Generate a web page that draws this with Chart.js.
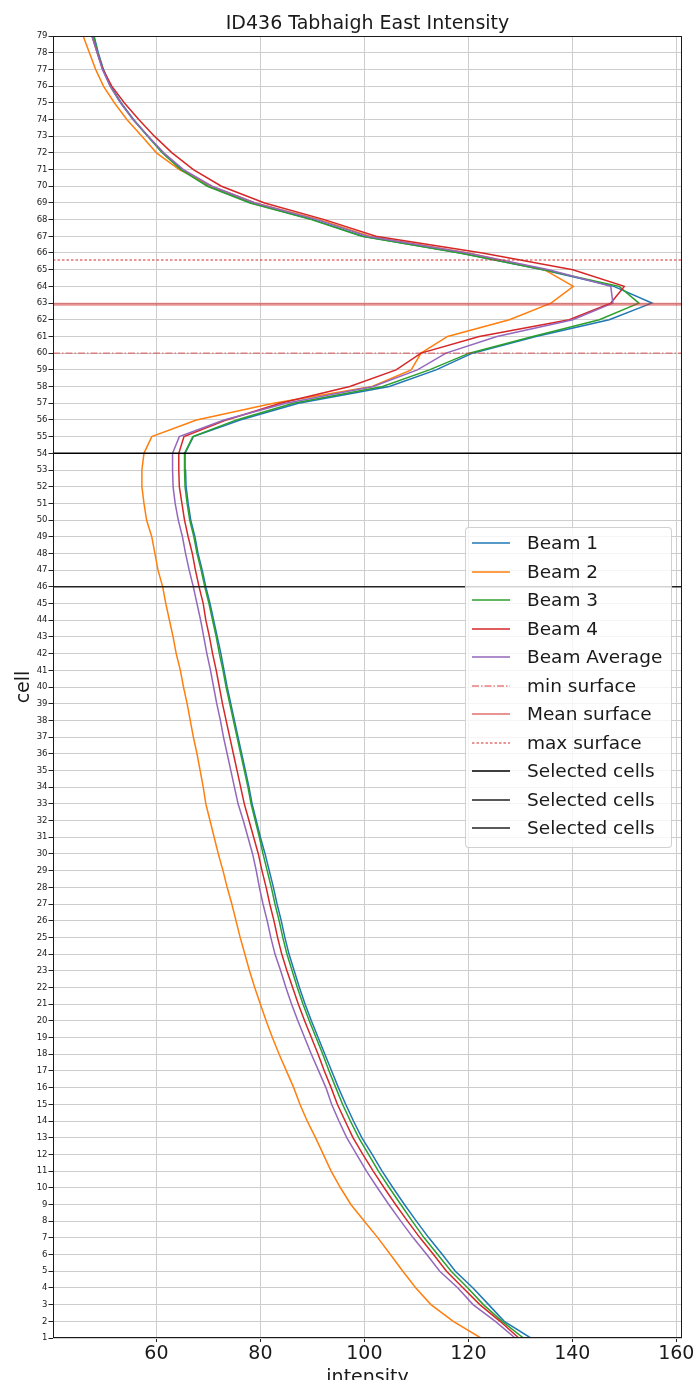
<!DOCTYPE html>
<html><head><meta charset="utf-8">
<script src="https://cdn.jsdelivr.net/npm/chart.js@4.4.1/dist/chart.umd.min.js"></script>
<style>
html,body{margin:0;padding:0;background:#fff;overflow:hidden;}
#wrap{position:relative;width:697px;height:1380px;overflow:hidden;}
#legend{position:absolute;left:465px;top:527px;width:207px;height:321px;background:rgba(255,255,255,0.8);border:1px solid rgba(204,204,204,0.9);border-radius:4px;box-sizing:border-box;font-family:'DejaVu Sans';font-size:18.5px;color:#1a1a1a;}
.row{position:absolute;left:0;width:100%;height:28px;}
.row svg{position:absolute;left:6px;top:9px;}
.row span{position:absolute;left:61px;top:0;line-height:28px;white-space:nowrap;}
</style></head><body>
<div id="wrap"><canvas id="c" width="697" height="1396"></canvas><div id="legend"></div></div>
<script>
// ---- data (cell 1 .. 79) ----
const cells = [1,2,3,4,5,6,7,8,9,10,11,12,13,14,15,16,17,18,19,20,21,22,23,24,25,26,27,28,29,30,31,32,33,34,35,36,37,38,39,40,41,42,43,44,45,46,47,48,49,50,51,52,53,54,55,56,57,58,59,60,61,62,63,64,65,66,67,68,69,70,71,72,73,74,75,76,77,78,79];
const beam1 = [132.0,126.9,123.9,120.9,117.5,115.0,112.4,110.0,107.7,105.5,103.4,101.5,99.5,97.9,96.4,95.0,93.7,92.4,91.1,89.8,88.6,87.5,86.5,85.5,84.7,84.0,83.2,82.5,81.7,80.9,80.0,79.2,78.4,77.8,77.1,76.4,75.7,75.0,74.3,73.6,73.0,72.4,71.7,71.0,70.3,69.5,68.8,68.0,67.4,66.6,66.1,65.7,65.6,65.5,67.1,76.1,87.3,104.8,113.8,120.8,133.0,147.1,155.3,148.0,134.3,118.5,99.7,90.1,78.3,70.0,64.8,61.2,58.4,55.6,53.2,51.2,49.8,48.8,48.0];
const beam2 = [122.4,117.1,112.8,109.9,107.4,105.0,102.6,100.0,97.4,95.4,93.6,92.1,90.6,89.0,87.6,86.4,85.0,83.6,82.3,81.1,80.0,78.9,77.9,77.0,76.1,75.3,74.5,73.6,72.8,71.9,71.1,70.3,69.5,69.0,68.4,67.8,67.1,66.5,65.9,65.2,64.6,63.8,63.2,62.5,61.8,61.2,60.3,59.7,59.1,58.1,57.6,57.2,57.2,57.6,59.1,67.7,82.5,101.5,109.0,110.9,116.0,127.9,135.9,140.2,134.6,120.0,101.0,91.4,79.0,70.6,64.4,60.0,57.2,54.3,51.9,49.8,48.3,47.1,45.9];
const beam3 = [130.6,126.5,122.9,119.9,116.7,114.1,111.5,109.2,107.0,104.8,102.7,100.8,98.9,97.3,95.8,94.5,93.2,92.0,90.7,89.4,88.2,87.1,86.1,85.1,84.3,83.6,82.8,82.1,81.3,80.5,79.8,79.0,78.2,77.6,76.9,76.2,75.5,74.8,74.1,73.4,72.8,72.1,71.5,70.8,70.1,69.3,68.6,67.8,67.2,66.4,65.9,65.5,65.4,65.4,67.0,75.4,86.3,103.5,112.5,120.2,132.4,145.2,152.8,149.0,134.5,118.3,99.5,89.8,78.0,69.8,64.7,61.1,58.3,55.5,53.1,51.1,49.7,48.7,47.9];
const beam4 = [129.7,126.1,122.2,119.0,115.8,113.3,110.7,108.3,106.0,103.8,101.7,99.7,97.8,96.3,94.8,93.6,92.3,91.1,89.8,88.5,87.3,86.2,85.1,84.1,83.3,82.6,81.8,81.1,80.3,79.6,78.7,77.8,76.9,76.2,75.5,74.8,74.1,73.4,72.7,72.1,71.5,70.8,70.2,69.5,69.0,68.2,67.5,66.9,66.1,65.4,64.9,64.4,64.3,64.3,65.3,73.5,83.8,97.2,106.1,110.9,122.1,139.4,147.4,150.0,140.1,122.7,102.2,92.3,80.8,72.5,67.1,63.0,59.6,56.6,53.8,51.4,49.7,48.6,47.6];
const beamAvg = [129.0,125.2,120.9,118.0,114.5,112.0,109.4,107.0,104.7,102.5,100.4,98.5,96.6,95.1,93.7,92.6,91.2,89.8,88.5,87.2,86.0,84.9,83.9,82.8,82.0,81.3,80.5,79.8,79.2,78.5,77.6,76.7,75.7,75.0,74.3,73.6,72.9,72.3,71.6,71.0,70.4,69.7,69.1,68.5,67.8,67.1,66.3,65.6,65.0,64.2,63.6,63.2,63.1,63.1,64.4,73.0,84.9,101.7,110.2,115.7,125.5,140.1,147.8,147.4,135.5,119.8,100.6,90.9,79.0,70.7,65.2,61.4,58.4,55.5,53.1,51.1,49.6,48.6,47.6];
const surfaceMin = 60.0;
const surfaceMean = 62.93;
const surfaceMax = 65.58;
const selectedCells = [54, 46, 1];
const xTicks = [60, 80, 100, 120, 140, 160];
const xLimits = [40.1, 161.1];
const yLimits = [1, 79];

// ---- styles ----
const FONT = 'DejaVu Sans';
const beamSeries = [
  {label:'Beam 1', values:beam1, color:'#1f77b4'},
  {label:'Beam 2', values:beam2, color:'#ff7f0e'},
  {label:'Beam 3', values:beam3, color:'#2ca02c'},
  {label:'Beam 4', values:beam4, color:'#d62728'},
  {label:'Beam Average', values:beamAvg, color:'#9467bd'}
];
const hLines = [
  {label:'min surface', level:surfaceMin, color:'rgba(214,39,40,0.6)', width:1.3, dash:[7,2,1.5,2]},
  {label:'Mean surface', level:surfaceMean, color:'rgba(214,39,40,0.5)', width:2.8, dash:[]},
  {label:'max surface', level:surfaceMax, color:'rgba(214,39,40,0.65)', width:1.3, dash:[2.5,2]},
  {label:'Selected cells', level:selectedCells[0], color:'#000000', width:1.5, dash:[]},
  {label:'Selected cells', level:selectedCells[1], color:'#222222', width:1.5, dash:[]},
  {label:'Selected cells', level:selectedCells[2], color:'#222222', width:1.5, dash:[]}
];

const datasets = [];
beamSeries.forEach(s => {
  datasets.push({label:s.label, data:cells.map((c,k)=>({x:s.values[k], y:c})),
    borderColor:s.color, borderWidth:1.5, borderDash:[], pointRadius:0, tension:0, fill:false});
});
hLines.forEach(h => {
  datasets.push({label:h.label, data:[{x:xLimits[0], y:h.level},{x:xLimits[1], y:h.level}],
    borderColor:h.color, borderWidth:h.width, borderDash:h.dash, pointRadius:0, tension:0, fill:false});
});
datasets.forEach((d,i)=>{ d.order = -i; });

const spines = {
  id:'spines',
  afterDatasetsDraw(chart){
    const {ctx, chartArea:a} = chart;
    ctx.save();
    ctx.strokeStyle = '#1a1a1a';
    ctx.lineWidth = 1;
    ctx.strokeRect(Math.round(a.left)+0.5, Math.round(a.top)+0.5, Math.round(a.right-a.left)-1, Math.round(a.bottom-a.top)-1);
    ctx.restore();
  }
};

new Chart(document.getElementById('c'), {
  type:'line',
  data:{datasets},
  options:{
    responsive:false, animation:false, devicePixelRatio:1,
    layout:{padding:{left:0,right:15,top:0,bottom:0}},
    plugins:{
      legend:{display:false}, tooltip:{enabled:false},
      title:{display:true, fullSize:false, text:'ID436 Tabhaigh East Intensity',
        font:{family:FONT, size:19, weight:'normal'}, color:'#1a1a1a', padding:{top:12.5,bottom:0.7}}
    },
    scales:{
      x:{type:'linear', min:xLimits[0], max:xLimits[1],
        afterBuildTicks:s=>{ s.ticks = xTicks.map(v=>({value:v})); },
        afterFit:s=>{ s.height = 58; },
        grid:{color:'#cdcdcd', lineWidth:1, tickLength:4, tickColor:'#222', tickWidth:1},
        border:{display:false},
        ticks:{font:{family:FONT, size:19}, color:'#1a1a1a', padding:1, maxRotation:0, autoSkip:false},
        title:{display:true, text:'intensity', font:{family:FONT, size:19}, color:'#1a1a1a', padding:{top:0,bottom:7}}
      },
      y:{type:'linear', min:yLimits[0], max:yLimits[1],
        afterBuildTicks:s=>{ s.ticks = cells.map(v=>({value:v})); },
        afterFit:s=>{ s.width = 53; },
        grid:{color:'#cdcdcd', lineWidth:1, tickLength:4.5, tickColor:'#222', tickWidth:1},
        border:{display:false},
        ticks:{font:{family:FONT, size:8.5}, color:'#1a1a1a', padding:1, autoSkip:false},
        title:{display:true, text:'cell', font:{family:FONT, size:19}, color:'#1a1a1a', padding:{top:13,bottom:0}}
      }
    }
  },
  plugins:[spines]
});

// ---- legend (HTML, built from the dataset definitions) ----
const leg = document.getElementById('legend');
const legendItems = beamSeries.map(s=>({label:s.label, color:s.color, width:1.5, dash:[]})).concat(hLines);
legendItems.forEach((it,i)=>{
  const row = document.createElement('div');
  row.className = 'row';
  row.style.top = (16 + i*28.5 - 14 - 1) + 'px';
  const svgNS = 'http://www.w3.org/2000/svg';
  const svg = document.createElementNS(svgNS,'svg');
  svg.setAttribute('width','38'); svg.setAttribute('height','10');
  const ln = document.createElementNS(svgNS,'line');
  ln.setAttribute('x1','0'); ln.setAttribute('x2','38'); ln.setAttribute('y1','5'); ln.setAttribute('y2','5');
  ln.setAttribute('stroke', it.color); ln.setAttribute('stroke-width', Math.min(it.width, 1.8));
  if (it.dash.length) ln.setAttribute('stroke-dasharray', it.dash.join(' '));
  svg.appendChild(ln);
  const sp = document.createElement('span');
  sp.textContent = it.label;
  row.appendChild(svg); row.appendChild(sp);
  leg.appendChild(row);
});
</script>
</body></html>
